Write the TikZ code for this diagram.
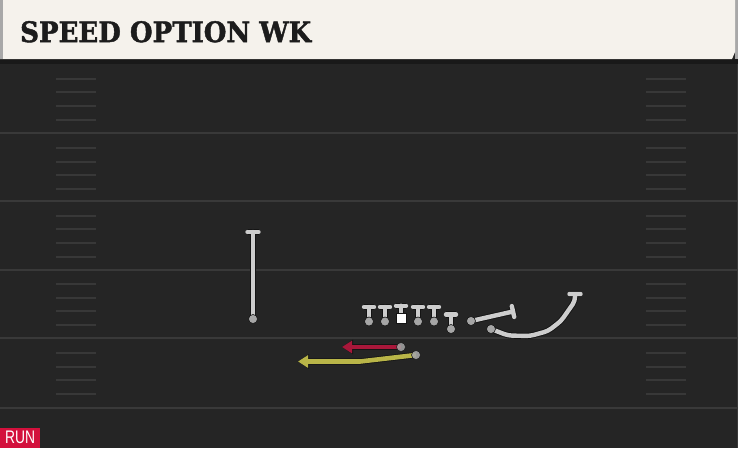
\documentclass[tikz,border=0pt]{standalone}
\usepackage{fontspec}
\setmainfont{DejaVu Serif}
\newfontfamily\titlefont{DejaVu Serif}[BoldFeatures={FakeBold=1.6}]
\newfontfamily\runfont{Liberation Sans}
\usetikzlibrary{arrows.meta}
\pgfdeclarelayer{back}
\pgfdeclarelayer{routes}
\pgfsetlayers{back,routes,main}
\definecolor{fieldbg}{HTML}{252525}
\definecolor{fieldline}{HTML}{393939}
\definecolor{hashcol}{HTML}{383838}
\definecolor{hdr}{HTML}{F5F2EC}
\definecolor{hdrside}{HTML}{A8A8A8}
\definecolor{shadowcol}{HTML}{191919}
\definecolor{routecol}{HTML}{CDCDCD}
\definecolor{outl}{HTML}{141414}
\definecolor{dotcol}{HTML}{A6A6A6}
\definecolor{redr}{HTML}{A8173A}
\definecolor{yelr}{HTML}{B9B548}
\definecolor{runred}{HTML}{D3103C}
\definecolor{titlecol}{HTML}{1C1C1C}
\tikzset{
  rt/.style={draw=routecol, line width=4.4pt, line cap=round, line join=round,
    preaction={draw=outl, line width=6.2pt}},
  redrt/.style={draw=redr, line width=4.6pt, line join=round,
    -{Triangle[length=10pt,width=12pt]},
    preaction={draw=outl, line width=6.2pt, -{Triangle[length=11pt,width=14pt]}}},
  yelrt/.style={draw=yelr, line width=4.6pt, line join=round,
    -{Triangle[length=10pt,width=12pt]},
    preaction={draw=outl, line width=6.2pt, -{Triangle[length=11pt,width=14pt]}}},
  pdot/.style={circle, inner sep=0pt, minimum size=9pt, fill=dotcol, draw=outl, line width=0.6pt},
  csq/.style={rectangle, inner sep=0pt, minimum size=10pt, fill=white, draw=outl, line width=0.6pt},
  yard/.style={draw=fieldline, line width=1.8pt},
  hash/.style={draw=hashcol, line width=1.3pt}
}
\begin{document}
\begin{tikzpicture}[x=1pt,y=-1pt]
\useasboundingbox (0,0) rectangle (738,448);
\begin{pgfonlayer}{back}
  \fill[fieldbg] (0,0) rectangle (738,448);
  \fill[hdrside] (735,0) rectangle (738,60);
  \fill[shadowcol] (0,59) rectangle (738,64);
  \fill[hdr] (0,0) -- (735,0) -- (735,52) -- (732,59) -- (0,59) -- cycle;
  \fill[hdrside] (0,0) rectangle (3,59);
  \draw[draw=fieldline, line width=1pt] (737,64) -- (737,448);
  \foreach \yy in {133,201,270,338,408} {\draw[yard] (0,\yy) -- (738,\yy);}
  \foreach \yy in {79,92,106,120,148,162,175,189,216,229,243,257,284,298,311,325,353,367,380,394}
    {\draw[hash] (56,\yy) -- (96,\yy); \draw[hash] (646,\yy) -- (686,\yy);}
\end{pgfonlayer}

\node[anchor=south west, inner sep=0pt, text=titlecol] (title) at (20,42.7)
  {\resizebox{291pt}{21pt}{\titlefont\bfseries SPEED OPTION WK}};
\node[anchor=south west, fill=runred, minimum width=40pt, minimum height=20pt, inner sep=0pt, text=white] (run) at (0,448)
  {\resizebox{30pt}{12.5pt}{\runfont RUN}};

% players
\node[pdot] (wr) at (253,319) {};
\node[pdot] (lt) at (369,321.5) {};
\node[pdot] (lg) at (385,321.5) {};
\node[csq]  (c)  at (401,318) {};
\node[pdot] (rg) at (418,321.5) {};
\node[pdot] (rtk) at (434,321.5) {};
\node[pdot] (te) at (451,329) {};
\node[pdot] (wg) at (471,321) {};
\node[pdot] (sl) at (491,329) {};
\node[pdot, opacity=0.85] (qb) at (401,347) {};
\node[pdot, opacity=0.9] (rb) at (416,355) {};

\coordinate (wrE) at (253,232);
\coordinate (wgE) at (513,311.5);
\coordinate (slE) at (575,294);
\coordinate (qbE) at (342,347);
\coordinate (rbE) at (298,361.5);

\begin{pgfonlayer}{routes}
  \draw[rt] (wr.center) -- (wrE) ++(-5.5,0) -- ++(11,0);
  \foreach \p in {lt,lg,rg,rtk} {\draw[rt] (\p.center) -- ++(0,-14.5) ++(-5,0) -- ++(10,0);}
  \draw[rt] (c.north) -- ++(0,-7) ++(-5,0) -- ++(10,0);
  \draw[rt] (te.center) -- ++(0,-14.5) ++(-5,0) -- ++(10,0);
  \draw[rt] (wg.center) -- (wgE) ++(1.2,5.4) -- ++(-2.4,-10.8);
  \draw[rt, rounded corners=4pt] (sl.center) -- (508,335.5) -- (530,336) -- (548,331) -- (561,321) -- (575,301) -- (slE) ++(-5.5,0) -- ++(11,0);
  \draw[redrt] (qb.center) -- (qbE);
  \draw[yelrt] (rb.center) -- (360,361.5) -- (rbE);
\end{pgfonlayer}
\end{tikzpicture}
\end{document}
